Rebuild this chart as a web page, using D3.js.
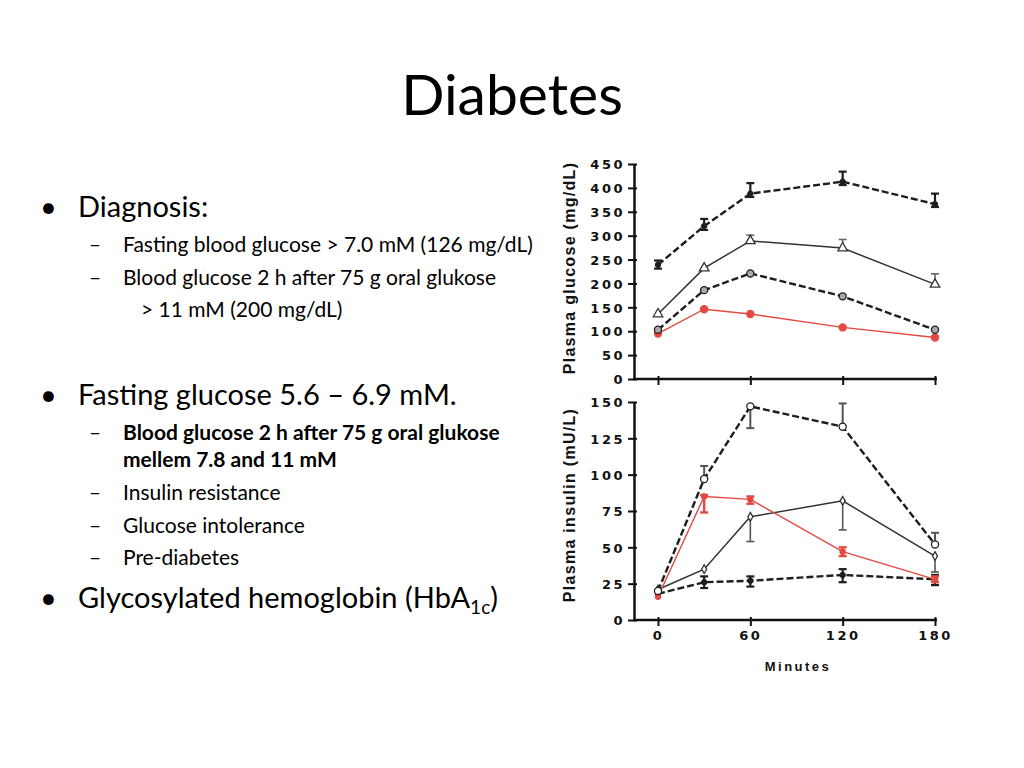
<!DOCTYPE html>
<html>
<head>
<meta charset="utf-8">
<title>Diabetes</title>
<script src="https://cdn.jsdelivr.net/npm/d3@7"></script>
<style>
  html, body { margin: 0; padding: 0; background: #fff; }
  svg { display: block; }
  .slide { font-family: Lato, "Open Sans", sans-serif; fill: #000; }
  .tick text { font-family: "DejaVu Sans", sans-serif; font-weight: bold; font-size: 13px; letter-spacing: 2.5px; fill: #111; }
  .axis-title { font-family: "Liberation Sans", Arial, sans-serif; font-weight: bold; fill: #111; }
</style>
</head>
<body>
<svg id="chart" width="1024" height="768"></svg>
<script>
// time points (minutes after glucose load)
const minutes = [0, 30, 60, 120, 180];
const minuteTicks = [0, 60, 120, 180];
const glucoseTicks = [0, 50, 100, 150, 200, 250, 300, 350, 400, 450];
const insulinTicks = [0, 25, 50, 75, 100, 125, 150];

// plasma glucose (mg/dL)
const glucoseHigh = [239, 320, 388, 413, 366];
const glucoseHighUp = [248, 335, 410, 434, 388];
const glucoseHighDown = [231, 312, 381, 406, 360];
const glucoseMid = [136, 232, 289, 274, 198];
const glucoseMidUp = [null, null, 301, 292, 220];
const glucoseLow = [103, 186, 221, 173, 103];
const glucoseRed = [95, 146, 136, 108, 87];

// plasma insulin (mU/L)
const insulinHigh = [20, 97, 147, 133, 52];
const insulinHighUp = [null, 106, null, 149, 60];
const insulinHighDown = [null, null, 132, null, null];
const insulinRed = [16, 85, 83, 47, 28];
const insulinRedUp = [null, 86, 85, 50, 30];
const insulinRedDown = [null, 74, 80, 44, 26];
const insulinMid = [21, 35, 71, 82, 44];
const insulinMidDown = [null, null, 54, 62, 33];
const insulinLow = [18, 26, 27, 31, 28];
const insulinLowUp = [null, 30, 30, 35, 31];
const insulinLowDown = [null, 22, 23, 26, 24];

const svg = d3.select("#chart");
const slide = svg.append("g").attr("class", "slide");

// ---- slide text ----
slide.append("text")
  .attr("x", 512).attr("y", 115)
  .attr("text-anchor", "middle")
  .attr("font-size", 57)
  .text("Diabetes");

const lines = [
  { lvl: 1, y: 217, t: "Diagnosis:" },
  { lvl: 2, y: 252, t: "Fasting blood glucose > 7.0 mM (126 mg/dL)" },
  { lvl: 2, y: 285, t: "Blood glucose 2 h after 75 g oral glukose" },
  { lvl: 3, y: 317, t: "> 11 mM (200 mg/dL)" },
  { lvl: 1, y: 405, t: "Fasting glucose 5.6 \u2013 6.9 mM." },
  { lvl: 2, y: 440, t: "Blood glucose 2 h after 75 g oral glukose", bold: true },
  { lvl: 3, y: 467, t: "mellem 7.8 and 11 mM", bold: true, x: 123 },
  { lvl: 2, y: 500, t: "Insulin resistance" },
  { lvl: 2, y: 533, t: "Glucose intolerance" },
  { lvl: 2, y: 565, t: "Pre-diabetes" }
];

const big = 29, small = 21;

lines.forEach(l => {
  if (l.lvl === 1) {
    slide.append("text").attr("x", 40).attr("y", l.y).attr("font-size", big).text("\u2022");
    slide.append("text").attr("x", 78).attr("y", l.y).attr("font-size", big).text(l.t);
  } else if (l.lvl === 2) {
    slide.append("text").attr("x", 89).attr("y", l.y).attr("font-size", small).text("\u2013");
    slide.append("text").attr("x", 123).attr("y", l.y).attr("font-size", small)
      .attr("font-weight", l.bold ? "bold" : null).text(l.t);
  } else {
    slide.append("text").attr("x", l.x || 141).attr("y", l.y).attr("font-size", small)
      .attr("font-weight", l.bold ? "bold" : null).text(l.t);
  }
});

// last bullet with subscript
slide.append("text").attr("x", 40).attr("y", 608).attr("font-size", big).text("\u2022");
const hb = slide.append("text").attr("x", 78).attr("y", 608).attr("font-size", big);
hb.append("tspan").text("Glycosylated hemoglobin (HbA");
hb.append("tspan").attr("font-size", 19).attr("dy", 6).text("1c");
hb.append("tspan").attr("dy", -6).text(")");

// ---- charts ----
const axisX = 634, rightEnd = 937;
const x = d3.scaleLinear().domain([0, 180]).range([658, 935]);
const yG = d3.scaleLinear().domain([0, 450]).range([379, 164]);
const yI = d3.scaleLinear().domain([0, 150]).range([620, 402]);

function drawAxes(y, ticks, showXLabels) {
  const g = svg.append("g");
  const ya = g.append("g").attr("transform", `translate(${axisX},0)`)
    .call(d3.axisLeft(y).tickValues(ticks).tickSize(6).tickSizeOuter(0).tickPadding(3));
  ya.select(".domain").attr("stroke", "#111").attr("stroke-width", 2.5);
  ya.selectAll(".tick line").attr("x1", 3).attr("stroke", "#111").attr("stroke-width", 2);
  ya.selectAll(".tick text").attr("dy", "0.36em");

  const y0 = y(0);
  const xa = g.append("g").attr("transform", `translate(0,${y0})`)
    .call(d3.axisBottom(x).tickValues(minuteTicks).tickSize(6).tickPadding(5));
  xa.select(".domain").remove();
  xa.selectAll(".tick line").attr("y1", -3).attr("stroke", "#111").attr("stroke-width", 2);
  if (!showXLabels) xa.selectAll(".tick text").remove();
  g.append("line")
    .attr("x1", axisX - 1).attr("x2", rightEnd)
    .attr("y1", y0).attr("y2", y0)
    .attr("stroke", "#111").attr("stroke-width", 2.5);
}

drawAxes(yG, glucoseTicks, false);
drawAxes(yI, insulinTicks, true);

function drawSeries(y, vals, opt) {
  const pts = minutes.map((m, i) => ({ m, v: vals[i], up: opt.up ? opt.up[i] : null, down: opt.down ? opt.down[i] : null }));
  const g = svg.append("g");
  const line = d3.line().x(d => x(d.m)).y(d => y(d.v));

  // error bars
  const bars = [];
  pts.forEach(d => {
    if (d.up != null) bars.push({ m: d.m, a: d.v, b: d.up });
    if (d.down != null) bars.push({ m: d.m, a: d.v, b: d.down });
  });
  const eb = g.selectAll(".err").data(bars).enter().append("g")
    .attr("stroke", opt.errColor || opt.color).attr("stroke-width", opt.errWidth || 2);
  eb.append("line")
    .attr("x1", d => x(d.m)).attr("x2", d => x(d.m))
    .attr("y1", d => y(d.a)).attr("y2", d => y(d.b));
  eb.append("line")
    .attr("x1", d => x(d.m) - 4).attr("x2", d => x(d.m) + 4)
    .attr("y1", d => y(d.b)).attr("y2", d => y(d.b));

  g.append("path").datum(pts)
    .attr("d", line)
    .attr("fill", "none")
    .attr("stroke", opt.color)
    .attr("stroke-width", opt.width)
    .attr("stroke-dasharray", opt.dash || null);

  const sym = d3.symbol().type(opt.symbol).size(opt.size);
  g.selectAll(".pt").data(pts).enter().append("path")
    .attr("transform", d => `translate(${x(d.m)},${y(d.v)})`)
    .attr("d", sym)
    .attr("fill", opt.fill)
    .attr("stroke", opt.color)
    .attr("stroke-width", 1.3);
}

// glucose panel
drawSeries(yG, glucoseRed, { color: "#e34a42", width: 1.4, symbol: d3.symbolCircle, size: 40, fill: "#e34a42" });
drawSeries(yG, glucoseLow, { color: "#1e1e1e", width: 2.4, dash: "7,3", symbol: d3.symbolCircle, size: 40, fill: "#aaa" });
drawSeries(yG, glucoseMid, { color: "#333", width: 1.5, symbol: d3.symbolTriangle, size: 40, fill: "#fff",
  up: glucoseMidUp, errColor: "#666", errWidth: 1.6 });
drawSeries(yG, glucoseHigh, { color: "#1e1e1e", width: 2.4, dash: "7,3", symbol: d3.symbolCircle, size: 20, fill: "#1e1e1e",
  up: glucoseHighUp, down: glucoseHighDown, errWidth: 2.2 });

// insulin panel
drawSeries(yI, insulinLow, { color: "#1e1e1e", width: 2.4, dash: "7,3", symbol: d3.symbolCircle, size: 20, fill: "#1e1e1e",
  up: insulinLowUp, down: insulinLowDown, errWidth: 2.2 });
drawSeries(yI, insulinMid, { color: "#333", width: 1.5, symbol: d3.symbolDiamond, size: 22, fill: "#fff",
  down: insulinMidDown, errColor: "#555", errWidth: 1.6 });
drawSeries(yI, insulinRed, { color: "#e34a42", width: 1.4, symbol: d3.symbolCircle, size: 22, fill: "#e34a42",
  up: insulinRedUp, down: insulinRedDown, errWidth: 2.4 });
drawSeries(yI, insulinHigh, { color: "#1e1e1e", width: 2.4, dash: "7,3", symbol: d3.symbolCircle, size: 40, fill: "#fff",
  up: insulinHighUp, down: insulinHighDown, errColor: "#555", errWidth: 2 });

// axis titles
svg.append("text").attr("class", "axis-title")
  .attr("transform", "translate(569,268) rotate(-90)")
  .attr("text-anchor", "middle").attr("dominant-baseline", "central")
  .attr("font-size", 16).attr("letter-spacing", 1.3)
  .text("Plasma glucose (mg/dL)");
svg.append("text").attr("class", "axis-title")
  .attr("transform", "translate(569,505) rotate(-90)")
  .attr("text-anchor", "middle").attr("dominant-baseline", "central")
  .attr("font-size", 16).attr("letter-spacing", 1.3)
  .text("Plasma insulin (mU/L)");
svg.append("text").attr("class", "axis-title")
  .attr("x", 798).attr("y", 671)
  .attr("text-anchor", "middle")
  .attr("font-size", 13).attr("letter-spacing", 2.5)
  .text("Minutes");
</script>
</body>
</html>
